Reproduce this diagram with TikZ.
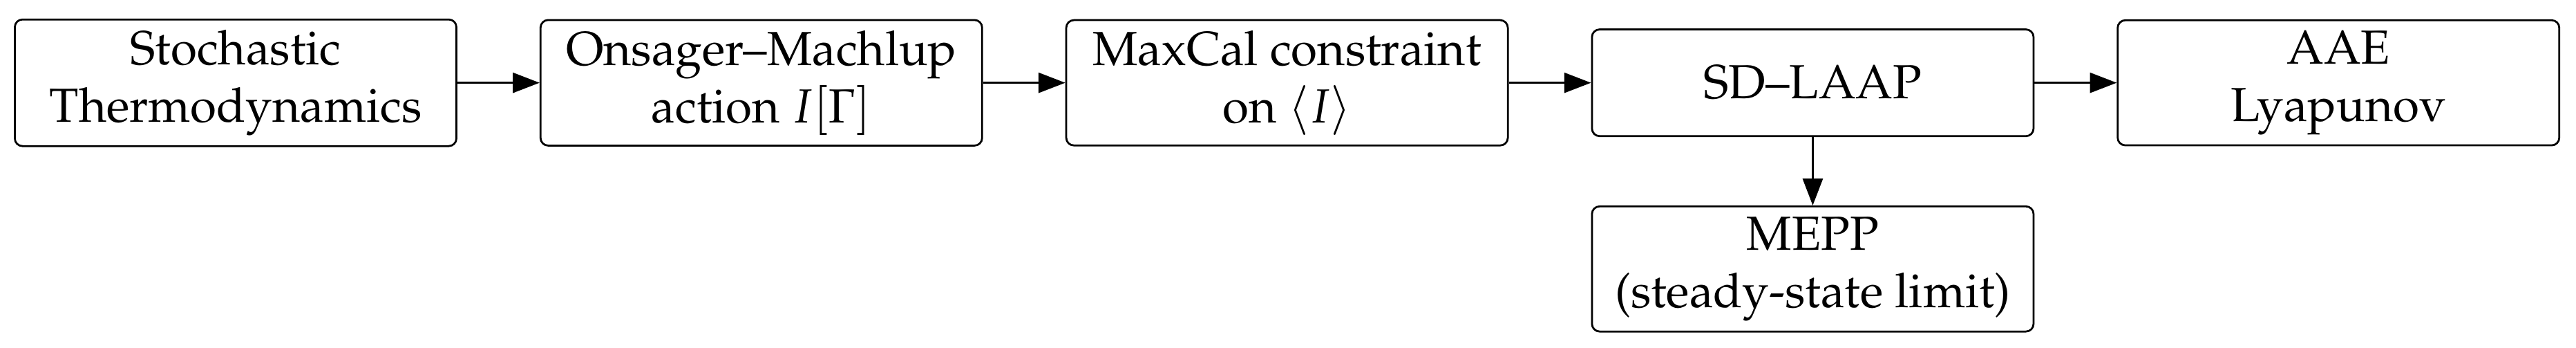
\documentclass[tikz,border=0pt]{standalone}
\usepackage[T1]{fontenc}
\usepackage{mathpazo}
\usetikzlibrary{arrows.meta}
\begin{document}
\begin{tikzpicture}[
  box/.style={draw, rounded corners=1.6pt, minimum width=92.4pt, minimum height=22.3pt,
    inner xsep=3pt, inner ysep=2.2pt, align=center, line width=0.4pt},
  arr/.style={-{Triangle[length=5.6pt,width=4.2pt]}, line width=0.4pt}
]
\useasboundingbox (0,0) rectangle (539pt,-72.6pt);
\node[box] (st)   at (49.3pt,-17.3pt)  {Stochastic\\Thermodynamics};
\node[box] (om)   at (159.3pt,-17.3pt) {Onsager--Machlup\\action $I[\Gamma]$};
\node[box] (mc)   at (269.3pt,-17.3pt) {MaxCal constraint\\on $\langle I\rangle$};
\node[box] (sd)   at (379.3pt,-17.3pt) {SD--LAAP};
\node[box] (aae)  at (489.3pt,-17.3pt) {AAE\\Lyapunov};
\node[box] (mepp) at (379.3pt,-56.2pt) {MEPP\\(steady-state limit)};
\draw[arr] (st.east) -- (om.west);
\draw[arr] (om.east) -- (mc.west);
\draw[arr] (mc.east) -- (sd.west);
\draw[arr] (sd.east) -- (aae.west);
\draw[arr] (sd.south) -- (mepp.north);
\end{tikzpicture}
\end{document}
